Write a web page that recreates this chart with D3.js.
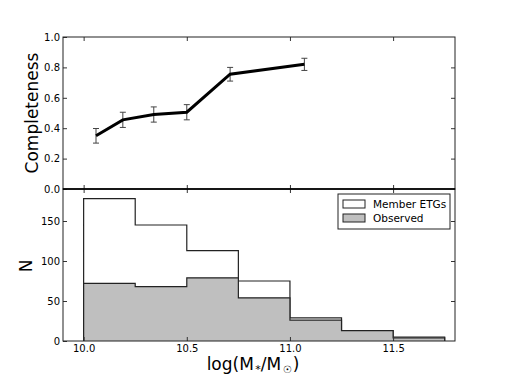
<!DOCTYPE html>
<html>
<head>
<meta charset="utf-8">
<script src="https://cdn.jsdelivr.net/npm/d3@7"></script>
<style>
  body { margin: 0; background: #fff; }
  svg text { font-family: "DejaVu Sans", sans-serif; }
</style>
</head>
<body>
<svg id="chart" width="506" height="379"></svg>
<script>
// completeness points (top panel)
const compMass = [10.06, 10.19, 10.34, 10.50, 10.71, 11.07];
const compValue = [0.35, 0.455, 0.49, 0.505, 0.755, 0.82];
const compErr = [0.048, 0.05, 0.05, 0.05, 0.045, 0.04];

// histogram bins (bottom panel)
const binEdges = [10.0, 10.25, 10.5, 10.75, 11.0, 11.25, 11.5, 11.75];
const memberCounts = [178, 145, 113, 75, 29, 13, 5];
const observedCounts = [72, 68, 79, 54, 26, 13, 4];

const xTicks = [10.0, 10.5, 11.0, 11.5];
const topTicks = [0.0, 0.2, 0.4, 0.6, 0.8, 1.0];
const botTicks = [0, 50, 100, 150];

const left = 63, right = 455, top1 = 37, mid = 189, bot = 341;
const svg = d3.select("#chart");

const x = d3.scaleLinear().domain([9.9, 11.8]).range([left, right]);
const yTop = d3.scaleLinear().domain([0, 1]).range([mid, top1]);
const yBot = d3.scaleLinear().domain([0, 190]).range([bot, mid]);

// step path for a histogram
function stepPath(counts) {
    const pts = [[x(binEdges[0]), yBot(0)]];
    counts.forEach((c, i) => {
        pts.push([x(binEdges[i]), yBot(c)]);
        pts.push([x(binEdges[i + 1]), yBot(c)]);
    });
    pts.push([x(binEdges[binEdges.length - 1]), yBot(0)]);
    return d3.line()(pts);
}

// bottom panel
svg.append("path")
    .attr("d", stepPath(memberCounts))
    .attr("fill", "#fff")
    .attr("stroke", "#222")
    .attr("stroke-width", 1.2);
svg.append("path")
    .attr("d", stepPath(observedCounts))
    .attr("fill", "#bfbfbf")
    .attr("stroke", "#222")
    .attr("stroke-width", 1.2);

// top panel line + error bars
svg.append("g").selectAll("g")
    .data(compMass.map((m, i) => ({ m, v: compValue[i], e: compErr[i] })))
    .join("g")
    .each(function(d) {
        const g = d3.select(this);
        const cx = x(d.m);
        g.append("line").attr("x1", cx).attr("x2", cx)
            .attr("y1", yTop(d.v - d.e)).attr("y2", yTop(d.v + d.e));
        [d.v - d.e, d.v + d.e].forEach(v => {
            g.append("line").attr("x1", cx - 3).attr("x2", cx + 3)
                .attr("y1", yTop(v)).attr("y2", yTop(v));
        });
    })
    .attr("stroke", "#444")
    .attr("stroke-width", 1);

svg.append("path")
    .datum(compMass.map((m, i) => [x(m), yTop(compValue[i])]))
    .attr("d", d3.line())
    .attr("fill", "none")
    .attr("stroke", "#000")
    .attr("stroke-width", 3)
    .attr("stroke-linejoin", "miter");

// axes with inward ticks
function styleAxis(g) {
    g.select(".domain").remove();
    g.selectAll("line").attr("stroke", "#333");
    g.selectAll("text").attr("font-size", 10).attr("fill", "#000")
        .attr("font-family", "DejaVu Sans, sans-serif");
}

svg.append("g").attr("transform", `translate(${left},0)`)
    .call(d3.axisLeft(yTop).tickValues(topTicks).tickFormat(d3.format(".1f")).tickSize(-4).tickPadding(3))
    .call(styleAxis);
svg.append("g").attr("transform", `translate(${right},0)`)
    .call(d3.axisRight(yTop).tickValues(topTicks.slice(1, -1)).tickFormat("").tickSize(-4))
    .call(styleAxis);
svg.append("g").attr("transform", `translate(${left},0)`)
    .call(d3.axisLeft(yBot).tickValues(botTicks).tickSize(-4).tickPadding(3))
    .call(styleAxis);
svg.append("g").attr("transform", `translate(${right},0)`)
    .call(d3.axisRight(yBot).tickValues(botTicks.slice(1)).tickFormat("").tickSize(-4))
    .call(styleAxis);

svg.append("g").attr("transform", `translate(0,${top1})`)
    .call(d3.axisTop(x).tickValues(xTicks).tickFormat("").tickSize(-4))
    .call(styleAxis);
svg.append("g").attr("transform", `translate(0,${mid})`)
    .call(d3.axisBottom(x).tickValues(xTicks).tickFormat("").tickSize(-4))
    .call(styleAxis);
svg.append("g").attr("transform", `translate(0,${mid})`)
    .call(d3.axisTop(x).tickValues(xTicks).tickFormat("").tickSize(-4))
    .call(styleAxis);
svg.append("g").attr("transform", `translate(0,${bot})`)
    .call(d3.axisBottom(x).tickValues(xTicks).tickFormat(d3.format(".1f")).tickSize(-4).tickPadding(4))
    .call(styleAxis);

// frames
svg.append("rect").attr("x", left).attr("y", top1)
    .attr("width", right - left).attr("height", mid - top1)
    .attr("fill", "none").attr("stroke", "#222").attr("stroke-width", 1);
svg.append("rect").attr("x", left).attr("y", mid)
    .attr("width", right - left).attr("height", bot - mid)
    .attr("fill", "none").attr("stroke", "#222").attr("stroke-width", 1);
svg.append("line").attr("x1", left).attr("x2", right).attr("y1", mid).attr("y2", mid)
    .attr("stroke", "#000").attr("stroke-width", 1.5);

// axis labels
svg.append("text")
    .attr("transform", `translate(37.5,${(top1 + mid) / 2}) rotate(-90)`)
    .attr("text-anchor", "middle")
    .attr("font-size", 17)
    .text("Completeness");
svg.append("text")
    .attr("transform", `translate(32,${(mid + bot) / 2 + 1}) rotate(-90)`)
    .attr("text-anchor", "middle")
    .attr("font-size", 17)
    .text("N");

const xl = svg.append("text")
    .attr("x", 253)
    .attr("y", 370)
    .attr("text-anchor", "middle")
    .attr("font-size", 17);
xl.append("tspan").text("log(M");
xl.append("tspan").attr("font-size", 11).attr("dx", 1.5).attr("dy", 3).text("*");
xl.append("tspan").attr("dy", -3).text("/M");
xl.append("tspan").attr("font-size", 10).attr("dx", 1.5).attr("dy", 3).text("\u2609");
xl.append("tspan").attr("dx", 1).attr("dy", -3).text(")");

// legend
const legendItems = [
    { label: "Member ETGs", fill: "#fff" },
    { label: "Observed", fill: "#bfbfbf" }
];
const legend = svg.append("g").attr("transform", "translate(338,194)");
legend.append("rect")
    .attr("width", 112).attr("height", 35)
    .attr("fill", "#fff").attr("stroke", "#222").attr("stroke-width", 1);
legendItems.forEach((d, i) => {
    const row = legend.append("g").attr("transform", `translate(5,${6 + i * 14})`);
    row.append("rect").attr("width", 22).attr("height", 8)
        .attr("fill", d.fill).attr("stroke", "#222").attr("stroke-width", 1);
    row.append("text").attr("x", 30).attr("y", 4).attr("dy", "0.35em")
        .attr("font-size", 10.5).text(d.label);
});
</script>
</body>
</html>
